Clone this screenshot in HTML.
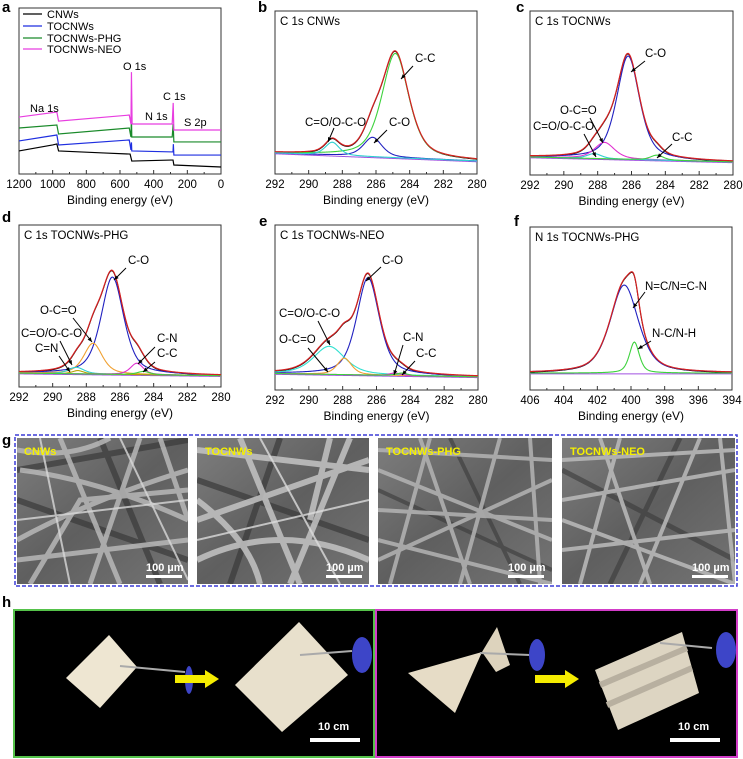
<!DOCTYPE html>
<html><head><meta charset="utf-8"><style>
html,body{margin:0;padding:0;background:#fff;}
svg{display:block;font-family:"Liberation Sans",Arial,sans-serif;}
</style></head><body>
<svg id="fig" width="743" height="759" viewBox="0 0 743 759" xmlns="http://www.w3.org/2000/svg">
<defs>
<linearGradient id="sem" x1="0" y1="0" x2="1" y2="1"><stop offset="0" stop-color="#7e7e7e"/><stop offset="0.5" stop-color="#5f5f5f"/><stop offset="1" stop-color="#747474"/></linearGradient>
<clipPath id="c1"><rect x="17" y="438" width="171" height="146"/></clipPath>
<clipPath id="c2"><rect x="197" y="438" width="172" height="146"/></clipPath>
<clipPath id="c3"><rect x="378" y="438" width="174" height="146"/></clipPath>
<clipPath id="c4"><rect x="562" y="438" width="173" height="146"/></clipPath>
</defs>
<g id="charts"></g>
<!-- panel g -->
<text x="2" y="445" font-size="15" font-weight="bold">g</text>
<rect x="15" y="435" width="722" height="151" fill="none" stroke="#3b3bd6" stroke-width="1.5" stroke-dasharray="4,2"/>
<g clip-path="url(#c1)">
<rect x="17" y="438" width="171" height="146" fill="url(#sem)"/>
<g stroke="#3a3a3a" stroke-width="6" fill="none" opacity="0.7"><path d="M17 500 L188 560"/><path d="M100 438 L160 584"/><path d="M17 470 L188 440"/></g>
<g stroke="#b8b8b8" stroke-width="5" fill="none" opacity="0.85"><path d="M17 540 Q90 500 188 470"/><path d="M60 438 L120 584"/><path d="M20 470 Q100 480 188 520"/><path d="M140 438 L90 584"/><path d="M17 560 L188 540"/><path d="M17 450 Q70 460 110 438"/><path d="M30 584 L80 500 L188 490"/><path d="M160 438 L188 520"/></g>
<g stroke="#d8d8d8" stroke-width="2" fill="none" opacity="0.8"><path d="M17 520 L188 500"/><path d="M40 438 L70 584"/><path d="M120 438 Q150 500 188 580"/></g>
<text x="24" y="455" font-size="11" font-weight="bold" fill="#f5f000">CNWs</text>
<text x="146" y="571" font-size="11" font-weight="bold" fill="#fff">100 µm</text>
<rect x="146" y="575" width="36" height="3" fill="#fff"/>
</g>
<g clip-path="url(#c2)">
<rect x="197" y="438" width="172" height="146" fill="url(#sem)"/>
<g stroke="#3a3a3a" stroke-width="6" fill="none" opacity="0.7"><path d="M197 480 L369 540"/><path d="M280 438 L230 584"/></g>
<g stroke="#c4c4c4" stroke-width="6" fill="none" opacity="0.85"><path d="M197 520 L369 460"/><path d="M240 438 L300 584"/><path d="M330 438 L310 520"/><path d="M197 560 Q280 520 369 560"/><path d="M197 450 L369 470"/><path d="M350 438 L290 584"/><path d="M197 500 Q250 540 260 584"/></g>
<g stroke="#dcdcdc" stroke-width="2" fill="none" opacity="0.8"><path d="M197 540 L369 500"/><path d="M260 438 L340 584"/></g>
<text x="205" y="455" font-size="11" font-weight="bold" fill="#f5f000">TOCNWs</text>
<text x="326" y="571" font-size="11" font-weight="bold" fill="#fff">100 µm</text>
<rect x="326" y="575" width="36" height="3" fill="#fff"/>
</g>
<g clip-path="url(#c3)">
<rect x="378" y="438" width="174" height="146" fill="url(#sem)"/>
<g stroke="#3a3a3a" stroke-width="4" fill="none" opacity="0.6"><path d="M378 490 L552 570"/><path d="M450 438 L520 584"/></g>
<g stroke="#b4b4b4" stroke-width="4" fill="none" opacity="0.85"><path d="M378 470 L552 540"/><path d="M420 438 L470 584"/><path d="M378 560 L552 480"/><path d="M500 438 L460 584"/><path d="M378 510 L552 520"/><path d="M390 584 L430 438"/><path d="M378 450 L552 460"/><path d="M530 438 L540 584"/><path d="M378 540 L552 584"/></g>
<text x="386" y="455" font-size="11" font-weight="bold" fill="#f5f000">TOCNWs-PHG</text>
<text x="508" y="571" font-size="11" font-weight="bold" fill="#fff">100 µm</text>
<rect x="508" y="575" width="36" height="3" fill="#fff"/>
</g>
<g clip-path="url(#c4)">
<rect x="562" y="438" width="173" height="146" fill="url(#sem)"/>
<g stroke="#3a3a3a" stroke-width="5" fill="none" opacity="0.6"><path d="M562 470 L735 560"/><path d="M680 438 L610 584"/></g>
<g stroke="#bcbcbc" stroke-width="4" fill="none" opacity="0.85"><path d="M562 500 L735 470"/><path d="M600 438 L650 584"/><path d="M562 550 L735 530"/><path d="M700 438 L640 584"/><path d="M562 460 L735 450"/><path d="M720 438 L735 584"/><path d="M580 584 L620 438"/><path d="M562 520 L735 584"/></g>
<text x="570" y="455" font-size="11" font-weight="bold" fill="#f5f000">TOCNWs-NEO</text>
<text x="692" y="571" font-size="11" font-weight="bold" fill="#fff">100 µm</text>
<rect x="692" y="575" width="36" height="3" fill="#fff"/>
</g>
<!-- panel h -->
<text x="2" y="607" font-size="15" font-weight="bold">h</text>
<g>
<rect x="14" y="610" width="360" height="147" fill="#000" stroke="#55c24a" stroke-width="2"/>
<polygon points="109,635 137,667 100,708 66,678" fill="#eee6d2"/>
<line x1="120" y1="666" x2="185" y2="672" stroke="#aaa" stroke-width="2"/>
<ellipse cx="189" cy="680" rx="4" ry="14" fill="#3d45c8"/>
<polygon points="175,675 205,675 205,670 219,679 205,688 205,683 175,683" fill="#f5ec00"/>
<polygon points="299,622 348,675 282,732 235,685" fill="#e8e0cc"/>
<line x1="300" y1="655" x2="352" y2="651" stroke="#aaa" stroke-width="2"/>
<ellipse cx="362" cy="655" rx="10" ry="18" fill="#3d45c8"/>
<text x="318" y="730" font-size="11" font-weight="bold" fill="#fff">10 cm</text>
<rect x="310" y="738" width="50" height="4" fill="#fff"/>
</g>
<g>
<rect x="376" y="610" width="361" height="147" fill="#000" stroke="#d23cc8" stroke-width="2"/>
<polygon points="408,673 482,652 455,713" fill="#e6dcc6"/>
<polygon points="482,652 497,627 510,665 496,672" fill="#ddd3bd"/>
<line x1="480" y1="653" x2="530" y2="655" stroke="#aaa" stroke-width="2"/>
<ellipse cx="537" cy="655" rx="8" ry="16" fill="#3d45c8"/>
<polygon points="535,675 565,675 565,670 579,679 565,688 565,683 535,683" fill="#f5ec00"/>
<polygon points="595,670 682,632 699,693 618,730" fill="#ddd5c2"/>
<g stroke="#b8b0a0" stroke-width="6"><line x1="600" y1="685" x2="687" y2="648"/><line x1="607" y1="705" x2="692" y2="668"/></g>
<line x1="660" y1="643" x2="712" y2="648" stroke="#aaa" stroke-width="2"/>
<ellipse cx="726" cy="650" rx="10" ry="18" fill="#3d45c8"/>
<text x="678" y="730" font-size="11" font-weight="bold" fill="#fff">10 cm</text>
<rect x="670" y="738" width="50" height="4" fill="#fff"/>
</g>
</svg>
<script>
// ---- Panel a survey data (binding energy, intensity a.u.) ----
const aSeriesNames = ["CNWs","TOCNWs","TOCNWs-PHG","TOCNWs-NEO"];
const aBE_CNWs = [1200,1000,975,965,700,540,530,300,285,280,0];
const aI_CNWs  = [13.9,17.5,18.1,13.9,12.7,12.0,7.8,8.4,8.4,5.4,4.2];
const aBE_TOC  = [1200,975,965,545,535,532,530,285,283,280,0];
const aI_TOC   = [19.9,23.5,17.5,20.5,14.5,19,13.9,13.3,18,11.4,11.4];
const aBE_PHG  = [1200,975,965,545,535,532,530,290,284,280,0];
const aI_PHG   = [27.7,29.5,24.1,27.7,22.3,35,22.3,22.3,30,19.3,19.3];
const aBE_NEO  = [1200,975,965,545,535,532,528,290,284,280,0];
const aI_NEO   = [34.3,37.3,31.9,35.5,30.1,61.4,30.1,30.1,42.8,26.5,26.5];
const aXTicks = [1200,1000,800,600,400,200,0];

// ---- Panel b: C 1s CNWs ----
const bCenters = [284.85,286.2,288.6];
const bHeights = [64,12,8];
const bWidths  = [1.9,1.3,1.0];
const bBg = [12.9,8.0];
// ---- Panel c: C 1s TOCNWs ----
const cCenters = [286.2,287.6,288.2,284.5];
const cHeights = [63,10,3,3];
const cWidths  = [1.6,1.4,1.0,0.9];
const cBg = [11,8];
// ---- Panel d: C 1s TOCNWs-PHG ----
const dCenters = [286.45,287.6,288.6,288.5,285.0,284.6];
const dHeights = [60,19,4,2,7,2];
const dWidths  = [1.6,1.3,1.1,0.8,0.9,0.9];
const dBg = [8.6,7];
// ---- Panel e: C 1s TOCNWs-NEO ----
const eCenters = [286.5,288.8,287.9,284.9,284.5];
const eHeights = [59,17,10,1.5,1.5];
const eWidths  = [1.6,2.2,1.0,0.8,0.8];
const eBg = [10,8];
// ---- Panel f: N 1s TOCNWs-PHG ----
const fCenters = [400.4,399.8];
const fHeights = [54,19];
const fWidths  = [2.0,0.7];
const fBg = [10.4,10.4];
const cTicks = [292,290,288,286,284,282,280];
const fTicks = [406,404,402,400,398,396,394];

const NS="http://www.w3.org/2000/svg";
const root=document.getElementById('charts');
function mk(tag,attrs,parent){const e=document.createElementNS(NS,tag);for(const k in attrs)e.setAttribute(k,attrs[k]);(parent||root).appendChild(e);return e;}
function txt(s,x,y,size,parent,extra){const t=mk('text',Object.assign({x:x,y:y,'font-size':size,fill:'#000'},extra||{}),parent);t.textContent=s;return t;}

function axes(g,fr,xl,xr,ticks,title,plabel,lx,ly){
  let el=mk('rect',{x:fr.x0,y:fr.y0,width:fr.x1-fr.x0,height:fr.y1-fr.y0,fill:'none',stroke:'#333','stroke-width':1},g);
  
  
  const sx=v=>fr.x0+(v-xl)/(xr-xl)*(fr.x1-fr.x0);
  const step=(ticks[1]-ticks[0])/2;
  for(let i=0;i<ticks.length;i++){
    const x=sx(ticks[i]);
    el=mk('line',{x1:x,x2:x,y1:fr.y1,y2:fr.y1-4,stroke:'#333'},g);
    
    
    if(i<ticks.length-1){const xm=sx(ticks[i]+step);mk('line',{x1:xm,x2:xm,y1:fr.y1,y2:fr.y1-2,stroke:'#333'},g);}
    el=txt(String(ticks[i]),x,fr.y1+14,11.5,g,{'text-anchor':'middle'});
    
    
  }
  el=txt(title,(fr.x0+fr.x1)/2,fr.y1+30,12,g,{'text-anchor':'middle'});
  
  
  el=txt(plabel,lx,ly,15,g,{'font-weight':'bold'});
  
  
  return sx;
}
function pv(x,c,h,w){const s=w/2;const L=1/(1+((x-c)/s)**2);const G=Math.exp(-Math.LN2*((x-c)/s)**2);return h*(0.55*L+0.45*G);}

function xpsPanel(name,fr,xl,xr,ticks,centers,heights,widths,bg,colors,title,plabel,lx,ly,ann){
  const g=mk('g',{});
  
  
  const sx=axes(g,fr,xl,xr,ticks,'Binding energy (eV)',plabel,lx,ly);
  const sy=v=>fr.y1-v/100*(fr.y1-fr.y0);
  const N=240,xs=[];for(let i=0;i<=N;i++)xs.push(xl+(xr-xl)*i/N);
  const bgv=x=>bg[0]+(bg[1]-bg[0])*(x-xl)/(xr-xl);
  const env=xs.map(x=>{let s=bgv(x);for(let k=0;k<centers.length;k++)s+=pv(x,centers[k],heights[k],widths[k]);return s;});
  let el=mk('polyline',{points:xs.map((x,i)=>sx(x)+','+(sy(env[i])+0.6)).join(' '),fill:'none',stroke:'#000','stroke-width':1},g);
  
  
  el=mk('polyline',{points:xs.map(x=>sx(x)+','+sy(bgv(x)-0.5)).join(' '),fill:'none',stroke:'#a050e0','stroke-width':1},g);
  
  
  for(let k=0;k<centers.length;k++){
    el=mk('polyline',{points:xs.map(x=>sx(x)+','+sy(bgv(x)+pv(x,centers[k],heights[k],widths[k]))).join(' '),fill:'none',stroke:colors[k],'stroke-width':1.1},g);
    
    
  }
  el=mk('polyline',{points:xs.map((x,i)=>sx(x)+','+sy(env[i])).join(' '),fill:'none',stroke:'#d42020','stroke-width':1.2},g);
  
  
  el=txt(title,fr.x0+5,fr.y0+14,11.5,g);
  
  
  for(const a of ann){
    el=txt(a[0],a[1],a[2],11.5,g);
    
    
    el=mk('line',{x1:a[3],y1:a[4],x2:a[5],y2:a[6],stroke:'#000','stroke-width':1},g);
    
    
    const ang=Math.atan2(a[6]-a[4],a[5]-a[3]);
    const p=[[a[5],a[6]],[a[5]-5*Math.cos(ang-0.4),a[6]-5*Math.sin(ang-0.4)],[a[5]-5*Math.cos(ang+0.4),a[6]-5*Math.sin(ang+0.4)]];
    mk('polygon',{points:p.map(q=>q.join(',')).join(' '),fill:'#000'},g);
  }
}

// Panel a
(function(){
  const fr={x0:19,x1:221,y0:8,y1:174};
  const g=mk('g',{});
  
  
  const sx=axes(g,fr,1200,0,aXTicks,'Binding energy (eV)','a',2,12);
  const sy=v=>fr.y1-v/100*(fr.y1-fr.y0);
  const sets=[[aBE_CNWs,aI_CNWs,'#000'],[aBE_TOC,aI_TOC,'#1f2fe0'],[aBE_PHG,aI_PHG,'#1a8a2a'],[aBE_NEO,aI_NEO,'#e83ee0']];
  for(let s=0;s<sets.length;s++){
    const [be,iv,col]=sets[s];
    let el=mk('polyline',{points:be.map((b,i)=>sx(b)+','+sy(iv[i])).join(' '),fill:'none',stroke:col,'stroke-width':1.2},g);
    
    
    const ly=[18,30,42,53][s];
    el=mk('line',{x1:23,x2:42,y1:ly-4,y2:ly-4,stroke:col,'stroke-width':1.2},g);
    
    
    el=txt(aSeriesNames[s],47,ly,11,g);
    
    
  }
  const labs=[['Na 1s',30,112],['O 1s',123,70],['N 1s',145,120],['C 1s',163,100],['S 2p',184,126]];
  for(const l of labs){const el=txt(l[0],l[1],l[2],11,g);}
})();

xpsPanel('c1s-cnws-chart',{x0:275,x1:477,y0:11,y1:174},292,280,cTicks,bCenters,bHeights,bWidths,bBg,['#3dd23d','#2020c0','#30d0d0'],'C 1s CNWs','b',258,12,
 [['C-C',415,62,413,66,401,79],['C=O/O-C-O',305,126,334,128,328,142],['C-O',389,126,387,130,374,143]]);
xpsPanel('c1s-tocnws-chart',{x0:530,x1:733,y0:11,y1:175},292,280,cTicks,cCenters,cHeights,cWidths,cBg,['#2020c0','#e030d0','#30d0d0','#3dd23d'],'C 1s TOCNWs','c',516,12,
 [['C-O',645,57,645,61,631,72],['O-C=O',560,114,590,118,603,143],['C=O/O-C-O',533,130,584,134,596,157],['C-C',672,141,672,144,657,158]]);
xpsPanel('c1s-tocnws-phg-chart',{x0:19,x1:221,y0:225,y1:387},292,280,cTicks,dCenters,dHeights,dWidths,dBg,['#2020c0','#f0a030','#30d0d0','#b8a000','#e030d0','#3dd23d'],'C 1s TOCNWs-PHG','d',2,222,
 [['C-O',128,264,126,268,114,280],['O-C=O',40,314,73,318,92,342],['C=O/O-C-O',21,337,60,341,72,365],['C=N',35,352,59,356,70,372],['C-N',157,342,155,347,138,364],['C-C',157,357,155,362,143,372]]);
xpsPanel('c1s-tocnws-neo-chart',{x0:275,x1:478,y0:225,y1:390},292,280,cTicks,eCenters,eHeights,eWidths,eBg,['#2020c0','#30e0d0','#f0a030','#e030d0','#3dd23d'],'C 1s TOCNWs-NEO','e',259,226,
 [['C-O',382,264,381,267,366,281],['C=O/O-C-O',279,317,318,321,330,345],['O-C=O',279,343,308,348,328,372],['C-N',403,341,403,345,394,375],['C-C',416,357,415,361,402,375]]);
xpsPanel('n1s-tocnws-phg-chart',{x0:530,x1:732,y0:227,y1:390},406,394,fTicks,fCenters,fHeights,fWidths,fBg,['#2020c0','#3dd23d'],'N 1s TOCNWs-PHG','f',514,226,
 [['N=C/N=C-N',645,290,645,292,633,308],['N-C/N-H',652,337,651,341,638,349]]);
</script>
</body></html>
